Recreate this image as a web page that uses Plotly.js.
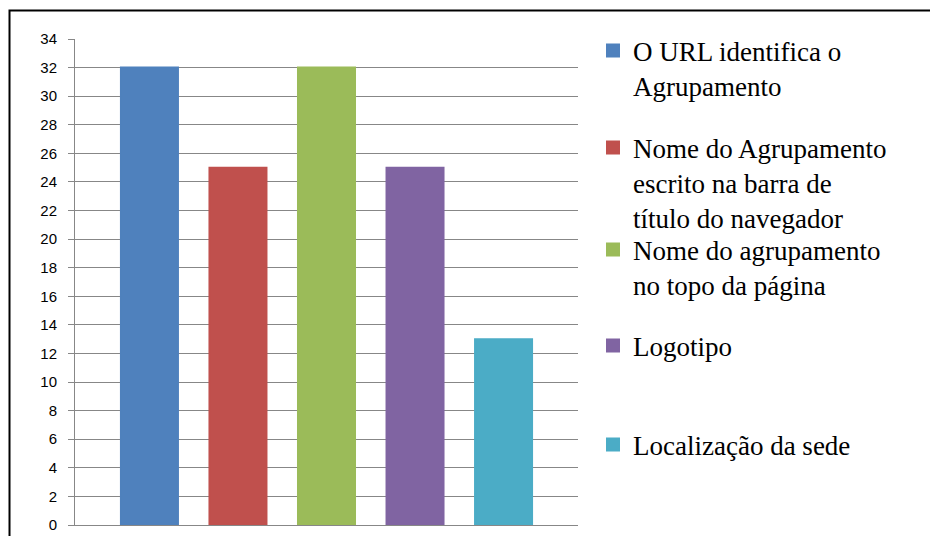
<!DOCTYPE html>
<html>
<head>
<meta charset="utf-8">
<script src="https://cdn.plot.ly/plotly-3.0.1.min.js"></script>
<style>html,body{margin:0;padding:0;background:#fff;}#chart{width:930px;height:536px;}</style>
</head>
<body>
<div id="chart"></div>
<script>
const categories = ['Total'];
const seriesNames = [
  'O URL identifica o<br>Agrupamento',
  'Nome do Agrupamento<br>escrito na barra de<br>título do navegador',
  'Nome do agrupamento<br>no topo da página',
  'Logotipo',
  'Localização da sede'
];
const seriesValues = [32, 25, 32, 25, 13];
const seriesColors = ['#4F81BD', '#C0504D', '#9BBB59', '#8064A2', '#4BACC6'];
const yTickValues = [0,2,4,6,8,10,12,14,16,18,20,22,24,26,28,30,32,34];

const legendTops = [1.0259, 0.8263, 0.6164, 0.4189, 0.2152];
const legendIds = ['legend', 'legend2', 'legend3', 'legend4', 'legend5'];

const traces = seriesNames.map((name, i) => ({
  type: 'bar',
  x: categories,
  y: [seriesValues[i]],
  name: name,
  legend: legendIds[i],
  showlegend: true,
  marker: {color: seriesColors[i], line: {width: 2, color: seriesColors[i]}},
  hoverinfo: 'skip'
}));

const legendFont = {family: 'Liberation Serif', size: 27, color: '#000'};
const layout = {
  width: 930,
  height: 536,
  showlegend: true,
  margin: {l: 75, r: 352, t: 39, b: 11},
  paper_bgcolor: '#fff',
  plot_bgcolor: '#fff',
  barmode: 'group',
  bargap: 0.12,
  bargroupgap: 0.356,
  xaxis: {
    type: 'category',
    showticklabels: false,
    ticks: '',
    showgrid: false,
    showline: true,
    linecolor: '#878787',
    linewidth: 1,
    zeroline: false,
    fixedrange: true
  },
  yaxis: {
    range: [0, 34],
    tickvals: yTickValues,
    ticktext: yTickValues.map(String),
    ticks: 'outside',
    ticklen: 6,
    tickcolor: '#878787',
    tickwidth: 1,
    ticklabelstandoff: 8,
    showline: true,
    linecolor: '#878787',
    linewidth: 1,
    showgrid: true,
    gridcolor: '#878787',
    gridwidth: 1,
    zeroline: false,
    tickfont: {family: 'Liberation Sans', size: 15, color: '#000'},
    fixedrange: true
  },
  shapes: [{
    type: 'rect', xref: 'paper', yref: 'paper',
    x0: -0.1302, x1: 1.75, y0: -0.2, y1: 1.0586,
    line: {color: '#000', width: 2}, fillcolor: 'rgba(0,0,0,0)'
  }]
};
legendIds.forEach((id, i) => {
  layout[id] = {
    x: 1.0298, xanchor: 'left',
    y: legendTops[i], yanchor: 'top',
    bgcolor: 'rgba(0,0,0,0)',
    borderwidth: 0,
    valign: 'top',
    font: legendFont
  };
});

Plotly.newPlot('chart', traces, layout, {displayModeBar: false, staticPlot: true});
</script>
</body>
</html>
